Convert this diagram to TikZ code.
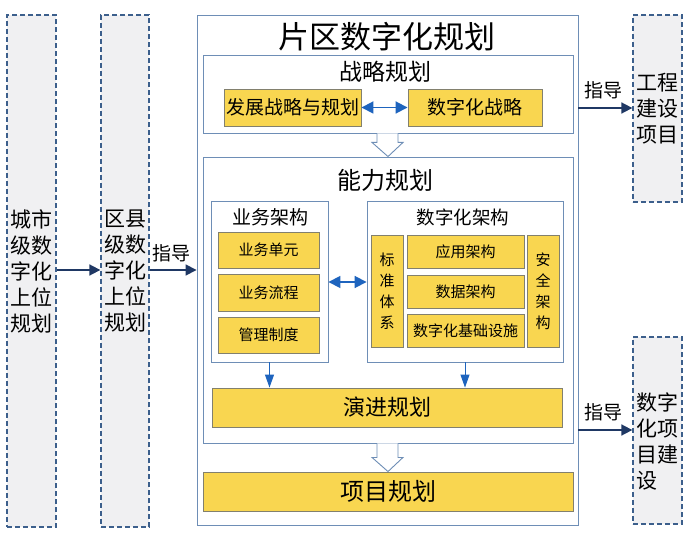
\documentclass[tikz,border=0pt]{standalone}
\usepackage{fontspec}
\setmainfont{Noto Sans CJK SC}
\usetikzlibrary{arrows.meta,calc}
\definecolor{frameblue}{RGB}{110,142,182}
\definecolor{dashblue}{RGB}{60,95,140}
\definecolor{dashfill}{RGB}{240,240,242}
\definecolor{ylw}{RGB}{249,214,80}
\definecolor{ylwline}{RGB}{130,128,110}
\definecolor{navy}{RGB}{31,56,100}
\definecolor{brightblue}{RGB}{30,100,190}
\newcommand{\fs}[2]{\fontsize{#1}{#2}\selectfont}
\tikzset{
  frame/.style={draw=frameblue,line width=0.9pt,fill=white,inner sep=0pt},
  dashbox/.style={draw=dashblue,fill=dashfill,line width=1.3pt,dash pattern=on 5pt off 3pt,inner sep=0pt},
  ybox/.style={draw=ylwline,fill=ylw,line width=0.9pt,inner sep=0pt,align=center},
  lbl/.style={inner sep=0pt,align=center},
  guide/.style={draw=navy,line width=1.7pt,-{Triangle[length=11pt,width=11pt]}},
  dbl/.style={draw=brightblue,line width=1.8pt,{Triangle[length=12pt,width=12pt]}-{Triangle[length=12pt,width=12pt]}},
  down/.style={draw=brightblue,line width=1pt,-{Triangle[length=13pt,width=9pt]}},
  hollow/.style={draw=frameblue,line width=0.9pt,fill=white,line join=miter}
}
\begin{document}
\begin{tikzpicture}[x=1pt,y=-1pt]
\useasboundingbox (0,0) rectangle (693,534);
% left dashed columns
\node[dashbox,minimum width=49pt,minimum height=512pt,align=left,font=\fs{21}{26}] (c1) at (31.5,271) {城市\\级数\\字化\\上位\\规划};
\node[dashbox,minimum width=48pt,minimum height=512pt,align=left,font=\fs{21}{26}] (c2) at (125,271) {区县\\级数\\字化\\上位\\规划};
% right dashed columns
\node[dashbox,minimum width=49pt,minimum height=187pt,align=left,font=\fs{21}{26}] (r1) at (657.5,108.5) {工程\\建设\\项目};
\node[dashbox,minimum width=49pt,minimum height=187pt] (r2) at (657.5,430.5) {};
\node[lbl,align=left,font=\fs{21}{26}] (r2t) at (657.5,441) {数字\\化项\\目建\\设};
% main frame
\node[frame,minimum width=381pt,minimum height=510pt] (main) at (387.5,270) {};
\node[lbl,font=\fs{31}{31}] (mt) at (387,37) {片区数字化规划};
% strategy
\node[frame,minimum width=370pt,minimum height=78pt] (sg) at (388,94) {};
\node[lbl,font=\fs{23}{23}] (sgt) at (385,72) {战略规划};
\node[ybox,minimum width=137pt,minimum height=37pt,font=\fs{19}{19}] (fz) at (292.5,107.5) {发展战略与规划};
\node[ybox,minimum width=134pt,minimum height=37pt,font=\fs{19}{19}] (sz) at (475,107.5) {数字化战略};
% capability
\node[frame,minimum width=370pt,minimum height=286pt] (nl) at (388,300) {};
\node[lbl,font=\fs{24}{24}] (nlt) at (385,180) {能力规划};
\node[frame,minimum width=117pt,minimum height=161pt] (yw) at (269.5,281.5) {};
\node[lbl,font=\fs{19}{19}] (ywt) at (270,217) {业务架构};
\node[ybox,minimum width=101pt,minimum height=36pt,font=\fs{15}{15}] (y1) at (268.5,250) {业务单元};
\node[ybox,minimum width=101pt,minimum height=37pt,font=\fs{15}{15}] (y2) at (268.5,292.5) {业务流程};
\node[ybox,minimum width=101pt,minimum height=36pt,font=\fs{15}{15}] (y3) at (268.5,335) {管理制度};
\node[frame,minimum width=196pt,minimum height=161pt] (sw) at (465,281.5) {};
\node[lbl,font=\fs{18.5}{18.5}] (swt) at (463,217) {数字化架构};
\node[ybox,minimum width=32pt,minimum height=112pt,font=\fs{15}{21}] (bz) at (387,291) {标\\准\\体\\系};
\node[ybox,minimum width=117pt,minimum height=33pt,font=\fs{15}{15}] (yy) at (465.5,251.5) {应用架构};
\node[ybox,minimum width=117pt,minimum height=33pt,font=\fs{15}{15}] (sj) at (465.5,291.5) {数据架构};
\node[ybox,minimum width=117pt,minimum height=33pt,font=\fs{15}{15}] (jc) at (465.5,330.5) {数字化基础设施};
\node[ybox,minimum width=32pt,minimum height=112pt,font=\fs{15}{21}] (aq) at (543,291) {安\\全\\架\\构};
\node[ybox,minimum width=350pt,minimum height=39pt,font=\fs{22}{22}] (yj) at (387,407.5) {演进规划};
% project planning
\node[ybox,minimum width=370pt,minimum height=39pt,font=\fs{24}{24}] (xm) at (388,491.5) {项目规划};
% guide labels
\node[lbl,font=\fs{19}{19}] (g1) at (171,253) {指导};
\node[lbl,font=\fs{19}{19}] (g2) at (603,90) {指导};
\node[lbl,font=\fs{19}{19}] (g3) at (603,412) {指导};
% connectors
\draw[guide] (c1.east |- 0,270) -- (c2.west |- 0,270);
\draw[guide] (c2.east |- 0,270) -- (main.west |- 0,270);
\draw[guide] (main.east |- 0,108) -- (r1.west |- 0,108);
\draw[guide] (main.east |- 0,430) -- (r2.west |- 0,430);
\draw[dbl] (fz.east) -- (sz.west);
\draw[dbl] (yw.east |- 0,282) -- (sw.west |- 0,282);
\draw[down] (yw.south) -- (yw.south |- yj.north);
\draw[down] (sw.south) -- (sw.south |- yj.north);
% hollow arrows
\draw[hollow] ($(sg.south)+(-11,0)$) -- ($(sg.south)+(-11,9)$) -- ($(sg.south)+(-16,9)$) -- (sg.south |- nl.north) -- ($(sg.south)+(15,9)$) -- ($(sg.south)+(10,9)$) -- ($(sg.south)+(10,0)$);
\draw[hollow] ($(nl.south)+(-11,0)$) -- ($(nl.south)+(-11,14)$) -- ($(nl.south)+(-16,14)$) -- (nl.south |- xm.north) -- ($(nl.south)+(15,14)$) -- ($(nl.south)+(10,14)$) -- ($(nl.south)+(10,0)$);
\end{tikzpicture}
\end{document}
